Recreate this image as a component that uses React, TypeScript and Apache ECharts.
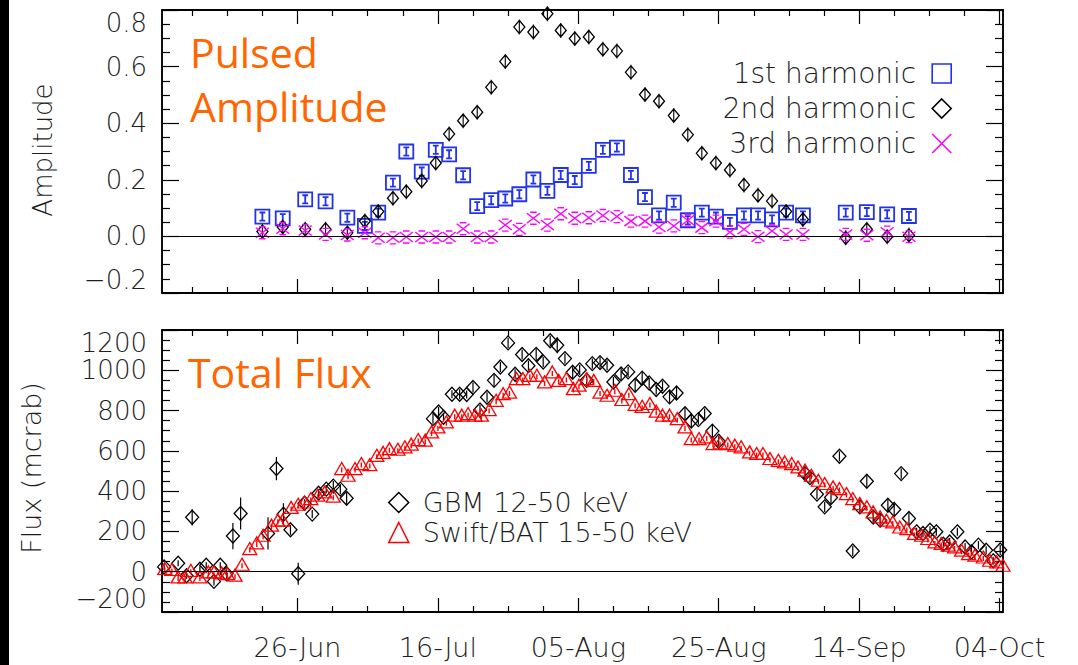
import React, { useEffect, useRef } from "react";
import * as echarts from "echarts";

// ---------- data (x = days since 26-Jun) ----------
const harmonicDays = [-5.0, -2.1, 1.1, 4.0, 7.1, 9.6, 11.5, 13.6, 15.5, 17.7, 19.7, 21.6, 23.6, 25.6, 27.6, 29.6, 31.6, 33.6, 35.6, 37.5, 39.5, 41.5, 43.5, 45.5, 47.5, 49.5, 51.5, 53.6, 55.6, 57.6, 59.6, 61.6, 63.6, 65.6, 67.6, 69.6, 72.0, 78.1, 81.1, 84.0, 87.1];
const firstHarmonic = [0.070, 0.064, 0.131, 0.124, 0.066, 0.037, 0.084, 0.190, 0.300, 0.229, 0.306, 0.290, 0.216, 0.107, 0.128, 0.134, 0.149, 0.201, 0.161, 0.217, 0.199, 0.249, 0.306, 0.314, 0.217, 0.139, 0.074, 0.119, 0.057, 0.084, 0.070, 0.051, 0.074, 0.074, 0.060, 0.084, 0.074, 0.084, 0.086, 0.078, 0.072];
const secondHarmonic = [0.017, 0.033, 0.025, 0.025, 0.013, 0.054, 0.088, 0.135, 0.158, 0.196, 0.259, 0.362, 0.409, 0.439, 0.527, 0.618, 0.740, 0.722, 0.787, 0.728, 0.699, 0.705, 0.661, 0.655, 0.580, 0.501, 0.478, 0.427, 0.359, 0.294, 0.259, 0.235, 0.182, 0.145, 0.125, 0.088, 0.060, -0.005, 0.025, -0.001, 0.004];
const thirdHarmonic = [0.013, 0.027, 0.021, 0.007, 0.005, 0.013, -0.005, -0.005, -0.002, -0.002, -0.002, -0.002, 0.027, -0.002, -0.002, 0.040, 0.025, 0.064, 0.040, 0.080, 0.064, 0.066, 0.074, 0.070, 0.054, 0.054, 0.033, 0.037, 0.057, 0.031, 0.054, 0.015, 0.025, -0.001, 0.019, 0.007, 0.007, 0.007, 0.004, 0.015, -0.001];

const gbmDays = [-19.0, -17.0, -15.8, -15.0, -13.9, -13.0, -11.9, -11.0, -10.1, -9.2, -8.1, -4.2, -3.0, -2.0, -1.0, 0.1, 1.0, 2.1, 3.0, 4.1, 5.1, 6.1, 7.0, 19.3, 20.1, 20.8, 22.0, 23.1, 24.1, 25.0, 26.0, 27.0, 28.0, 28.9, 30.0, 31.0, 32.0, 32.9, 34.0, 35.0, 36.0, 37.0, 38.1, 39.2, 40.2, 41.2, 42.0, 43.1, 44.1, 45.0, 46.1, 47.1, 48.1, 49.1, 50.1, 51.1, 52.0, 53.0, 54.0, 55.2, 56.1, 57.1, 58.0, 59.1, 60.0, 72.3, 73.0, 74.0, 75.1, 76.0, 77.2, 79.1, 80.1, 81.1, 82.0, 83.0, 84.1, 85.0, 86.0, 87.1, 88.2, 89.1, 90.1, 91.0, 92.0, 92.9, 94.0, 95.1, 96.0, 97.0, 98.1, 99.1, 100.1];
const gbmFlux = [24, 42, -20, 270, 12, 32, -48, 32, -10, 177, 289, 190, 512, 285, 208, -10, 340, 286, 390, 410, 425, 410, 365, 760, 793, 767, 881, 881, 880, 915, 803, 866, 950, 1016, 1136, 980, 1078, 1023, 1079, 1041, 1147, 1124, 1058, 990, 1002, 950, 1033, 1038, 1025, 942, 982, 992, 926, 961, 937, 905, 921, 868, 887, 784, 748, 755, 785, 698, 648, 487, 467, 385, 322, 368, 573, 103, 322, 449, 272, 256, 330, 309, 487, 264, 198, 190, 206, 198, 136, 148, 198, 123, 98, 132, 107, 54, 108];
const gbmErr = [15, 15, 15, 40, 15, 15, 20, 15, 25, 65, 80, 80, 58, 55, 25, 55, 20, 20, 20, 20, 25, 25, 30, 25, 25, 20, 20, 25, 20, 25, 25, 25, 30, 25, 25, 25, 25, 25, 30, 25, 25, 40, 25, 30, 25, 25, 25, 30, 25, 25, 30, 25, 30, 30, 25, 25, 25, 30, 30, 30, 30, 25, 25, 30, 25, 30, 25, 25, 25, 30, 25, 25, 35, 30, 30, 35, 30, 30, 25, 30, 20, 20, 20, 20, 20, 20, 20, 20, 20, 20, 20, 20, 25];

const batDays = [-18.9, -17.9, -17.0, -16.0, -15.2, -13.9, -12.7, -11.9, -10.8, -10.0, -8.9, -7.9, -6.8, -5.8, -4.9, -3.7, -2.8, -2.1, -0.9, 0.1, 1.0, 1.9, 2.9, 3.9, 5.1, 6.3, 7.2, 8.2, 9.1, 10.3, 11.3, 12.2, 13.1, 14.3, 15.3, 16.2, 17.2, 18.2, 19.1, 20.0, 21.2, 22.4, 23.4, 24.3, 25.3, 26.2, 27.3, 28.3, 29.3, 30.2, 31.2, 32.1, 33.1, 34.1, 35.2, 36.3, 37.2, 38.3, 39.3, 40.1, 41.2, 42.2, 43.1, 44.1, 45.2, 46.2, 47.2, 48.1, 49.1, 50.2, 51.1, 52.0, 53.0, 54.1, 55.2, 56.1, 57.2, 58.3, 59.2, 60.2, 61.3, 62.3, 63.2, 64.4, 65.4, 66.3, 67.3, 68.5, 69.4, 70.4, 71.3, 72.3, 73.2, 74.2, 75.1, 76.3, 77.2, 78.2, 79.1, 80.1, 81.1, 82.0, 83.0, 83.9, 84.8, 85.8, 86.8, 87.9, 88.9, 89.8, 90.8, 91.7, 92.7, 93.6, 94.6, 95.6, 96.5, 97.7, 98.6, 99.6, 100.5];
const batFlux = [16, 11, -26, -26, 7, -26, -1, -1, -6, -9, -17, 37, 115, 143, 181, 231, 256, 256, 319, 335, 346, 363, 380, 396, 375, 512, 479, 512, 537, 532, 578, 592, 611, 608, 620, 633, 656, 653, 694, 719, 744, 777, 777, 785, 777, 777, 805, 851, 884, 892, 959, 959, 975, 975, 942, 992, 950, 959, 909, 926, 959, 950, 892, 876, 901, 855, 884, 831, 821, 835, 797, 777, 777, 760, 719, 661, 661, 669, 636, 640, 636, 628, 620, 595, 587, 587, 562, 553, 545, 537, 520, 504, 479, 454, 438, 421, 413, 388, 363, 338, 322, 297, 272, 256, 247, 222, 214, 190, 181, 165, 148, 140, 132, 123, 107, 90, 82, 73, 57, 49, 32];

const majorDays = [0, 20, 40, 60, 80, 100];
const dateLabels = ["26-Jun", "16-Jul", "05-Aug", "25-Aug", "14-Sep", "04-Oct"];
const minorDays = [-15, -10, -5, 5, 10, 15, 25, 30, 35, 45, 50, 55, 65, 70, 75, 85, 90, 95];

const X_MIN = -19.3;
const X_MAX = 100.5;

const BLUE = "#2233ee";
const MAGENTA = "#ff00ff";
const RED = "#ff0000";
const ORANGE = "#ff6600";
const INK = "#1e1e1e";
const TICK_FONT = "DejaVu Sans";

const SQUARE_I = "path://M0 0H12V12H0Z M3.5 2.5H8.5 M6 2.5V9.5 M3.5 9.5H8.5";
const DIAMOND_BAR = "path://M6 1L12 8L6 15L0 8Z M6 0V16";
const X_CAPS = "path://M0 1L12 11M12 1L0 11M3 0H9M3 12H9";
const X_PLAIN = "path://M0 0L12 12M12 0L0 12";
const TRI_BAR = "path://M7 0L14 12L0 12Z M7 5V10";

const tickLine = { color: "#000", width: 1.2 };
const axisLine = { show: true, onZero: false, lineStyle: { color: "#000", width: 1.5 } };

function mkX(grid: number, pos: string, major: boolean, labels: boolean) {
  return {
    type: "value",
    gridIndex: grid,
    position: pos,
    min: X_MIN,
    max: X_MAX,
    axisLine,
    splitLine: { show: false },
    axisTick: {
      show: true,
      inside: true,
      length: major ? 14 : 6,
      customValues: major ? majorDays : minorDays,
      lineStyle: tickLine,
    },
    axisLabel: labels
      ? {
          show: true,
          customValues: majorDays,
          formatter: (v: number) => dateLabels[majorDays.indexOf(Math.round(v))] ?? "",
          margin: 22,
          fontSize: 27,
          fontFamily: TICK_FONT,
          fontWeight: 200,
          color: INK,
        }
      : { show: false },
  };
}

function mkY(grid: number, pos: string, min: number, max: number, interval: number, labels: boolean, fmt?: (v: number) => string) {
  return {
    type: "value",
    gridIndex: grid,
    position: pos,
    min,
    max,
    interval,
    axisLine,
    splitLine: { show: false },
    minorSplitLine: { show: false },
    axisTick: { show: true, inside: true, length: 17, lineStyle: tickLine },
    minorTick: { show: true, splitNumber: 4, length: 8, lineStyle: tickLine },
    axisLabel: labels
      ? {
          show: true,
          formatter: fmt,
          margin: 15,
          fontSize: 26,
          fontFamily: TICK_FONT,
          fontWeight: 200,
          color: INK,
          verticalAlignMaxLabel: "top",
          verticalAlignMinLabel: "bottom",
        }
      : { show: false },
  };
}

const zeroLine = {
  silent: true,
  symbol: "none",
  label: { show: false },
  lineStyle: { color: "#000", width: 1, type: "solid" },
  data: [{ yAxis: 0 }],
};

export default function App() {
  const ref = useRef<HTMLDivElement>(null);

  useEffect(() => {
    if (!ref.current) return;
    const chart = echarts.init(ref.current, undefined, { renderer: "svg" });

    const option: any = {
      animation: false,
      backgroundColor: "#ffffff",
      grid: [
        { left: 162, top: 10, width: 841, height: 283, show: true, borderColor: "#000", borderWidth: 1.5, backgroundColor: "transparent" },
        { left: 162, top: 330, width: 841, height: 282, show: true, borderColor: "#000", borderWidth: 1.5, backgroundColor: "transparent" },
      ],
      xAxis: [
        mkX(0, "bottom", true, false),
        mkX(0, "bottom", false, false),
        mkX(0, "top", true, false),
        mkX(0, "top", false, false),
        mkX(1, "bottom", true, true),
        mkX(1, "bottom", false, false),
        mkX(1, "top", true, false),
        mkX(1, "top", false, false),
      ],
      yAxis: [
        mkY(0, "left", -0.2, 0.8, 0.2, true, (v: number) => v.toFixed(1).replace("-", "\u2212")),
        mkY(0, "right", -0.2, 0.8, 0.2, false),
        mkY(1, "left", -200, 1200, 200, true, (v: number) => String(Math.round(v)).replace("-", "\u2212")),
        mkY(1, "right", -200, 1200, 200, false),
      ],
      legend: [
        {
          orient: "vertical",
          align: "right",
          right: 121,
          top: 51,
          itemGap: 0,
          itemWidth: 19,
          itemHeight: 19,
          selectedMode: false,
          textStyle: { fontSize: 28, lineHeight: 35, fontFamily: TICK_FONT, fontWeight: 200, color: INK, padding: [0, 11, 0, 0] },
          data: [
            { name: "1st harmonic", icon: "rect", itemStyle: { color: "rgba(0,0,0,0)", borderColor: BLUE, borderWidth: 1.6 } },
            { name: "2nd harmonic", icon: "diamond", itemStyle: { color: "rgba(0,0,0,0)", borderColor: "#000", borderWidth: 1.6 } },
            { name: "3rd harmonic", icon: X_PLAIN, itemStyle: { color: "rgba(0,0,0,0)", borderColor: MAGENTA, borderWidth: 1.6 } },
          ],
        },
        {
          orient: "vertical",
          align: "left",
          left: 383,
          top: 480,
          itemGap: -5,
          itemWidth: 20,
          itemHeight: 20,
          selectedMode: false,
          textStyle: { fontSize: 27, lineHeight: 35, fontFamily: TICK_FONT, fontWeight: 200, color: INK, padding: [0, 0, 0, 9] },
          data: [
            { name: "GBM 12-50 keV", icon: "diamond", itemStyle: { color: "rgba(0,0,0,0)", borderColor: "#000", borderWidth: 1.5 } },
            { name: "Swift/BAT 15-50 keV", icon: "triangle", itemStyle: { color: "rgba(0,0,0,0)", borderColor: RED, borderWidth: 1.5 } },
          ],
        },
      ],
      series: [
        {
          name: "1st harmonic",
          type: "scatter",
          xAxisIndex: 0,
          yAxisIndex: 0,
          data: harmonicDays.map((d, i) => [d, firstHarmonic[i]]),
          symbol: SQUARE_I,
          symbolSize: [14, 14],
          itemStyle: { color: "rgba(0,0,0,0)", borderColor: BLUE, borderWidth: 1.8, opacity: 1 },
          markLine: zeroLine,
        },
        {
          name: "2nd harmonic",
          type: "scatter",
          xAxisIndex: 0,
          yAxisIndex: 0,
          data: harmonicDays.map((d, i) => [d, secondHarmonic[i]]),
          symbol: DIAMOND_BAR,
          symbolSize: [11, 15],
          itemStyle: { color: "rgba(0,0,0,0)", borderColor: "#000", borderWidth: 1.3, opacity: 1 },
        },
        {
          name: "3rd harmonic",
          type: "scatter",
          xAxisIndex: 0,
          yAxisIndex: 0,
          data: harmonicDays.map((d, i) => [d, thirdHarmonic[i]]),
          symbol: X_CAPS,
          symbolSize: [13, 12],
          itemStyle: { color: "rgba(0,0,0,0)", borderColor: MAGENTA, borderWidth: 1.4, opacity: 1 },
        },
        {
          name: "GBM error",
          type: "custom",
          xAxisIndex: 4,
          yAxisIndex: 2,
          clip: true,
          data: gbmDays.map((d, i) => [d, gbmFlux[i], gbmErr[i]]),
          renderItem: (params: any, api: any) => {
            const x = api.value(0);
            const y = api.value(1);
            const e = api.value(2);
            const p1 = api.coord([x, y - e]);
            const p2 = api.coord([x, y + e]);
            return {
              type: "line",
              shape: { x1: p1[0], y1: p1[1], x2: p2[0], y2: p2[1] },
              style: { stroke: "#000", lineWidth: 1.2 },
            };
          },
          markLine: zeroLine,
        },
        {
          name: "GBM 12-50 keV",
          type: "scatter",
          xAxisIndex: 4,
          yAxisIndex: 2,
          data: gbmDays.map((d, i) => [d, gbmFlux[i]]),
          symbol: "diamond",
          symbolSize: [13, 14],
          itemStyle: { color: "rgba(0,0,0,0)", borderColor: "#000", borderWidth: 1.3, opacity: 1 },
        },
        {
          name: "Swift/BAT 15-50 keV",
          type: "scatter",
          xAxisIndex: 4,
          yAxisIndex: 2,
          data: batDays.map((d, i) => [d, batFlux[i]]),
          symbol: TRI_BAR,
          symbolSize: [14, 12],
          itemStyle: { color: "rgba(0,0,0,0)", borderColor: RED, borderWidth: 1.3, opacity: 1 },
        },
      ],
      graphic: [
        { type: "rect", left: 0, top: 0, shape: { width: 9, height: 665 }, style: { fill: "#000" }, silent: true },
        {
          type: "text", x: 190, y: 52,
          style: { text: "Pulsed", fill: ORANGE, fontSize: 41, fontFamily: "Open Sans", align: "left", verticalAlign: "middle" },
        },
        {
          type: "text", x: 190, y: 106,
          style: { text: "Amplitude", fill: ORANGE, fontSize: 41, fontFamily: "Open Sans", align: "left", verticalAlign: "middle" },
        },
        {
          type: "text", x: 188, y: 372,
          style: { text: "Total Flux", fill: ORANGE, fontSize: 41, fontFamily: "Open Sans", align: "left", verticalAlign: "middle" },
        },
        {
          type: "text", x: 43, y: 150, rotation: Math.PI / 2,
          style: { text: "Amplitude", fill: INK, fontSize: 26, fontFamily: TICK_FONT, fontWeight: 200, align: "center", verticalAlign: "middle" },
        },
        {
          type: "text", x: 31, y: 468, rotation: Math.PI / 2,
          style: { text: "Flux (mcrab)", fill: INK, fontSize: 27, fontFamily: TICK_FONT, fontWeight: 200, align: "center", verticalAlign: "middle" },
        },
      ],
    };

    chart.setOption(option);
    return () => chart.dispose();
  }, []);

  return (
    <div
      ref={ref}
      style={{ position: "fixed", left: 0, top: 0, width: 1078, height: 665, background: "#fff" }}
    />
  );
}
